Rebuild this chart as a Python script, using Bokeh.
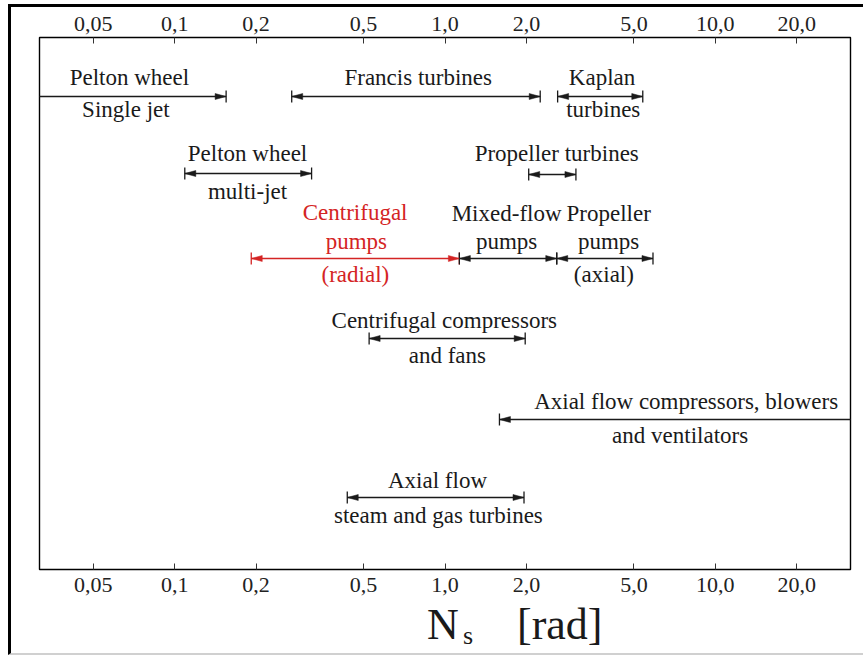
import numpy as np
from bokeh.plotting import figure
from bokeh.models import (Range1d, LogAxis, FixedTicker, ColumnDataSource,
                          CustomJSTickFormatter, Div)
from bokeh.layouts import column
from bokeh.core.properties import value
from bokeh.embed import file_html
from bokeh.resources import INLINE

# ---------------- data ----------------
tick_values = [0.05, 0.1, 0.2, 0.5, 1.0, 2.0, 5.0, 10.0, 20.0]
tick_labels = ["0,05", "0,1", "0,2", "0,5", "1,0", "2,0", "5,0", "10,0", "20,0"]

machines = ["Pelton wheel, single jet", "Francis turbines", "Kaplan turbines",
            "Pelton wheel, multi-jet", "Propeller turbines",
            "Centrifugal pumps (radial)", "Mixed-flow pumps", "Propeller pumps (axial)",
            "Centrifugal compressors and fans",
            "Axial flow compressors, blowers and ventilators",
            "Axial flow steam and gas turbines"]
ns_low = [0.01, 0.271, 2.61, 0.109, 2.04, 0.192, 1.13, 2.59, 0.524, 1.59, 0.435]
ns_high = [0.155, 2.25, 5.39, 0.321, 3.05, 1.13, 2.59, 5.88, 1.98, 100.0, 1.96]
open_low = [True, False, False, False, False, False, False, False, False, False, False]
open_high = [False, False, False, False, False, False, False, False, False, True, False]

# label texts (one entry per text line)
label_text = ["Pelton wheel", "Single jet", "Francis turbines", "Kaplan", "turbines",
              "Pelton wheel", "multi-jet", "Propeller turbines",
              "Centrifugal", "pumps", "(radial)",
              "Mixed-flow", "pumps",
              "Propeller", "pumps", "(axial)",
              "Centrifugal compressors", "and fans",
              "Axial flow compressors, blowers", "and ventilators",
              "Axial flow", "steam and gas turbines"]
label_ns = [0.068, 0.066, 0.796, 3.81, 3.85,
            0.186, 0.186, 2.59,
            0.465, 0.47, 0.466,
            1.69, 1.69,
            4.03, 4.03, 3.87,
            0.994, 1.02,
            7.80, 7.41,
            0.938, 0.945]
highlight = "Centrifugal pumps (radial)"
axis_title = ("N", "s", "[rad]")

# ---------------- layout (pixel rows, styles) ----------------
OX, OY = 11, 7                      # page offset of the figure (outer border)
FRAME_L, FRAME_R, FRAME_T, FRAME_B = 39, 850, 37, 569   # page pixels
FIG_W, FIG_BOTTOM = 863 - OX, 610
row_y = [96, 96, 96, 173, 174, 258, 258, 258, 338, 419, 497]
label_owner = [0, 0, 1, 2, 2, 3, 3, 4, 5, 5, 5, 6, 6, 7, 7, 7, 8, 8, 9, 9, 10, 10]
label_mid = [77, 109, 77, 77, 109, 153, 191, 153, 212, 241, 274, 213, 241, 213, 241, 274,
             320, 355, 401, 435, 480, 515]
BLACK = "#1a1a1a"
RED = "#d42424"
FONT = "Liberation Serif"

xmin, xmax = 10 ** -1.5, 10 ** 1.5
dec_per_px = (np.log10(xmax) - np.log10(xmin)) / (FRAME_R - FRAME_L)

p = figure(width=FIG_W, height=FIG_BOTTOM - OY, x_axis_type="log", x_range=Range1d(xmin, xmax),
           y_range=Range1d(FRAME_B, FRAME_T), x_axis_location="below",
           y_axis_location=None, output_backend="svg", toolbar_location=None,
           min_border_left=FRAME_L - OX, min_border_right=863 - FRAME_R,
           min_border_top=FRAME_T - OY, min_border_bottom=FIG_BOTTOM - FRAME_B)
p.xgrid.visible = False
p.ygrid.visible = False
p.outline_line_color = "black"
p.outline_line_width = 1.4
p.outline_line_alpha = 1.0
p.background_fill_color = "white"
p.border_fill_color = "white"

bottom_axis = p.xaxis[0]
top_axis = LogAxis()
p.add_layout(top_axis, "above")
fmt_code = """
let best = 0, bd = 1e9;
for (let i = 0; i < tv.length; i++) {
  const d = Math.abs(Math.log10(tv[i]) - Math.log10(tick));
  if (d < bd) { bd = d; best = i; }
}
return tl[best];
"""
for ax, standoff in [(bottom_axis, 8), (top_axis, 7)]:
    ax.ticker = FixedTicker(ticks=tick_values, minor_ticks=[])
    ax.formatter = CustomJSTickFormatter(args=dict(tv=tick_values, tl=tick_labels),
                                         code=fmt_code)
    ax.axis_line_color = None
    ax.major_tick_in = 6
    ax.major_tick_out = 0
    ax.major_tick_line_color = "#333333"
    ax.minor_tick_in = 0
    ax.minor_tick_out = 0
    ax.major_label_text_font = FONT
    ax.major_label_text_font_size = "22px"
    ax.major_label_text_color = "#222222"
    ax.major_label_standoff = standoff

# ---------------- ranges (lines) ----------------
colors = [RED if m == highlight else BLACK for m in machines]
p.segment(x0=ns_low, x1=ns_high, y0=row_y, y1=row_y, line_color=colors, line_width=1.3)

# end bars + arrow heads
bx, by0, by1, bc = [], [], [], []
txs, tys, tc = [], [], []
HL, HW, BAR = 11, 3.0, 6
for i in range(len(machines)):
    y = row_y[i]
    for end, is_open, direction in [(ns_low[i], open_low[i], -1), (ns_high[i], open_high[i], 1)]:
        if is_open:
            continue
        bx.append(end); by0.append(y - BAR); by1.append(y + BAR); bc.append(colors[i])
        base = end * 10 ** (-direction * HL * dec_per_px)
        txs.append([end, base, base]); tys.append([y, y - HW, y + HW]); tc.append(colors[i])
p.segment(x0=bx, x1=bx, y0=by0, y1=by1, line_color=bc, line_width=1.3)
p.patches(xs=txs, ys=tys, fill_color=tc, line_color=tc, line_width=0.5)

# ---------------- texts ----------------
lab_colors = [colors[o] for o in label_owner]
src = ColumnDataSource(dict(x=label_ns, y=label_mid, t=label_text, c=lab_colors))
p.text(x="x", y="y", text="t", source=src, text_color="c", text_align="center",
       text_baseline="middle", text_font=value(FONT), text_font_size="23px")

# ---------------- axis title  N_s [rad] ----------------
DIV_H = 653 - FIG_BOTTOM
span = ("position:absolute;white-space:nowrap;font-family:'Liberation Serif',serif;"
        "color:%s;" % BLACK)
title_html = (
    '<div style="position:relative;width:%dpx;height:%dpx;">' % (FIG_W, DIV_H)
    + '<span style="%sleft:%dpx;top:0px;font-size:44px;line-height:30px;">%s</span>'
    % (span, 427 - OX, axis_title[0])
    + '<span style="%sleft:%dpx;top:13px;font-size:26px;line-height:26px;">%s</span>'
    % (span, 463 - OX, axis_title[1])
    + '<span style="%sleft:%dpx;top:0px;font-size:44px;line-height:30px;">%s</span>'
    % (span, 517 - OX, axis_title[2])
    + '</div>')
title_div = Div(text=title_html, width=FIG_W, height=DIV_H, margin=0)

page = column(p, title_div, margin=0, spacing=0,
              styles={"margin-left": "8px", "margin-top": "4px",
                      "border-left": "3px solid #000000", "border-top": "3px solid #000000",
                      "border-bottom": "2px solid #d0d0d0", "background-color": "white"})

open("out.html", "w").write(file_html(page, INLINE))
